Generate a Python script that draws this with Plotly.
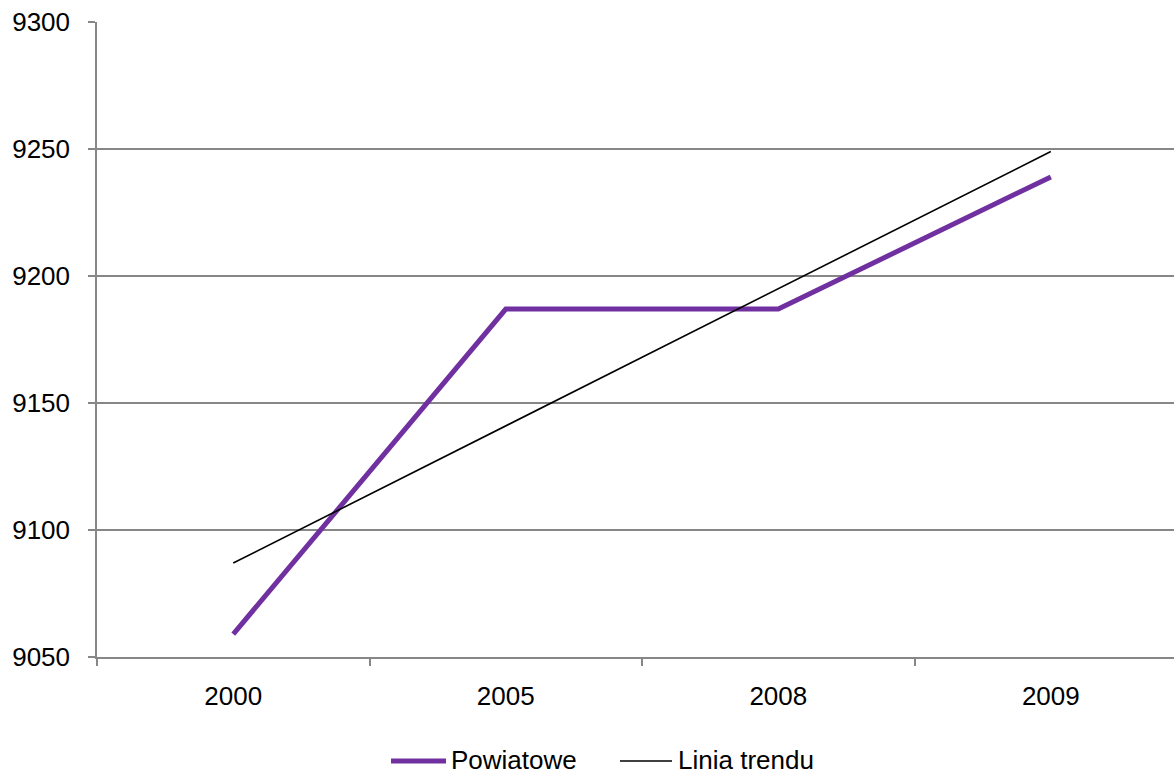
import plotly.graph_objects as go

years = ["2000", "2005", "2008", "2009"]
powiatowe = [9059, 9187, 9187, 9239]
trend = [9087, 9141, 9195, 9249]
y_ticks = [9050, 9100, 9150, 9200, 9250, 9300]

series_names = ["Powiatowe", "Linia trendu"]
series_colors = ["#7030A0", "#000000"]
series_widths = [5, 1.6]

FONT = "Liberation Sans, Arial, sans-serif"
AXIS_GRAY = "#878787"

fig = go.Figure()
fig.add_trace(go.Scatter(x=years, y=powiatowe, mode="lines", name=series_names[0],
                         line=dict(color=series_colors[0], width=series_widths[0])))
fig.add_trace(go.Scatter(x=years, y=trend, mode="lines", name=series_names[1],
                         line=dict(color=series_colors[1], width=series_widths[1])))

fig.update_layout(
    width=1174, height=774,
    margin=dict(l=97, r=0, t=22, b=117, autoexpand=False),
    paper_bgcolor="white", plot_bgcolor="white",
    font=dict(family=FONT, size=26, color="#000000"),
    showlegend=False,
)
fig.update_xaxes(
    type="category", range=[-0.5, 3.452], automargin=False,
    tickson="boundaries", ticks="outside", ticklen=7, tickcolor=AXIS_GRAY, tickwidth=1.5,
    showgrid=False, showline=True, linecolor=AXIS_GRAY, linewidth=1.5,
    ticklabelstandoff=15, zeroline=False,
)
fig.update_yaxes(
    range=[9050, 9300], tickvals=y_ticks, automargin=False,
    ticks="outside", ticklen=7, tickcolor=AXIS_GRAY, tickwidth=1.5,
    showgrid=True, gridcolor=AXIS_GRAY, gridwidth=1.5,
    showline=True, linecolor=AXIS_GRAY, linewidth=1.5,
    ticklabelstandoff=13, zeroline=False,
)

# Legend (drawn below the plot, Excel style)
legend_y = 760
legend_items = [(391, 446, 450), (620, 672, 677)]
for (x0, x1, xt), name, color, w in zip(legend_items, series_names, series_colors, series_widths):
    fig.add_shape(type="line", xref="paper", yref="paper",
                  x0=(x0 - 97) / 1077, x1=(x1 - 97) / 1077,
                  y0=(774 - 117 - legend_y - 1) / 635, y1=(774 - 117 - legend_y - 1) / 635,
                  line=dict(color=color, width=w))
    fig.add_annotation(xref="paper", yref="paper", x=(xt - 97) / 1077,
                       y=(774 - 117 - legend_y) / 635, text=name, showarrow=False,
                       xanchor="left", yanchor="middle", borderpad=0,
                       font=dict(family=FONT, size=26, color="#000000"))

fig.write_html("out.html", config={"displayModeBar": False},
               post_script="document.body.style.margin='0';document.body.style.overflow='hidden';")
